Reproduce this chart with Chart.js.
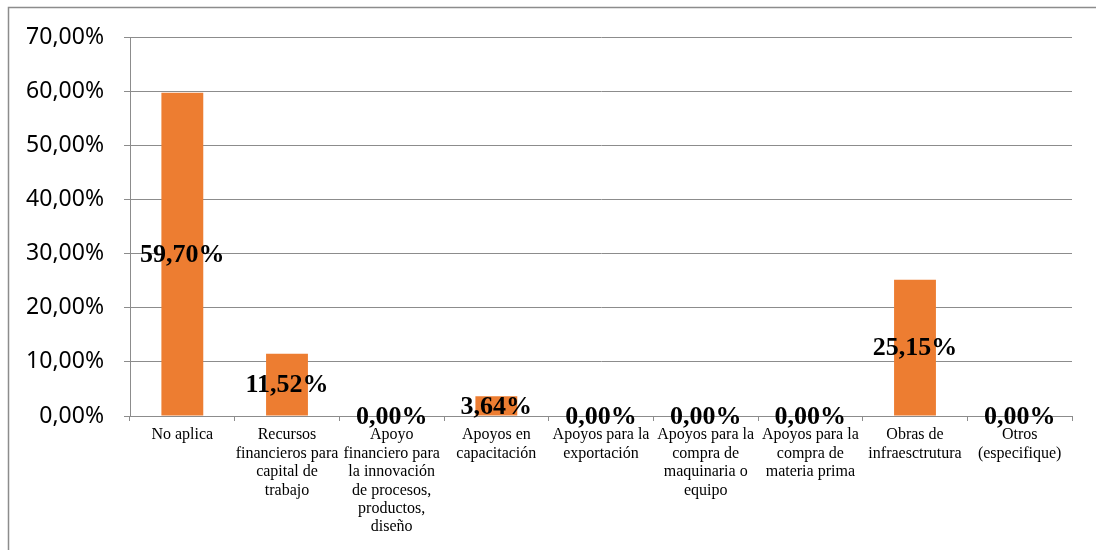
<!DOCTYPE html>
<html>
<head>
<meta charset="utf-8">
<script src="https://cdn.jsdelivr.net/npm/chart.js@4.4.0/dist/chart.umd.min.js"></script>
<style>
html,body{margin:0;padding:0;background:#fff;}
#wrap{position:relative;width:1096px;height:550px;}
</style>
</head>
<body>
<div id="wrap"><canvas id="c" width="1096" height="550"></canvas></div>
<script>
const categories = [
  "No aplica",
  ["Recursos","financieros para","capital de","trabajo"],
  ["Apoyo","financiero para","la innovación","de procesos,","productos,","diseño"],
  ["Apoyos en","capacitación"],
  ["Apoyos para la","exportación"],
  ["Apoyos para la","compra de","maquinaria o","equipo"],
  ["Apoyos para la","compra de","materia prima"],
  ["Obras de","infraesctrutura"],
  ["Otros","(especifique)"]
];
const values = [59.70, 11.52, 0.00, 3.64, 0.00, 0.00, 0.00, 25.15, 0.00];
const yTicks = [0, 10, 20, 30, 40, 50, 60, 70];

const fmt = v => v.toFixed(2).replace('.', ',') + '%';

const frame = {
  id: 'frame',
  beforeDraw(chart) {
    const ctx = chart.ctx;
    ctx.save();
    ctx.fillStyle = '#fff';
    ctx.fillRect(0, 0, chart.width, chart.height);
    ctx.strokeStyle = '#8c8c8c';
    ctx.lineWidth = 1.5;
    ctx.beginPath();
    ctx.moveTo(8.5, chart.height);
    ctx.lineTo(8.5, 7.5);
    ctx.lineTo(chart.width, 7.5);
    ctx.stroke();
    ctx.restore();
  }
};

const labelsPlugin = {
  id: 'valueLabels',
  afterDraw(chart) {
    const ctx = chart.ctx;
    const meta = chart.getDatasetMeta(0);
    ctx.save();
    ctx.font = 'bold 26px "Liberation Serif", "Times New Roman", serif';
    ctx.fillStyle = '#000';
    ctx.textAlign = 'center';
    ctx.textBaseline = 'middle';
    meta.data.forEach((bar, i) => {
      const y = (bar.y + bar.base) / 2 + 1;
      ctx.fillText(fmt(values[i]), bar.x, y);
    });
    ctx.restore();
  }
};

new Chart(document.getElementById('c'), {
  type: 'bar',
  data: {
    labels: categories,
    datasets: [{
      data: values,
      backgroundColor: '#ED7D31',
      borderWidth: 0,
      categoryPercentage: 1.0,
      barPercentage: 0.4
    }]
  },
  options: {
    responsive: false,
    animation: false,
    layout: { padding: { top: 37, right: 24, left: 0, bottom: 0 } },
    plugins: { legend: { display: false }, tooltip: { enabled: false } },
    scales: {
      y: {
        min: 0, max: 70,
        afterFit(scale) { scale.width = 130; },
        afterBuildTicks(scale) { scale.ticks = yTicks.map(v => ({ value: v })); },
        ticks: {
          padding: 20,
          color: '#000',
          font: { family: '"Noto Sans", sans-serif', size: 23 },
          callback: v => fmt(v)
        },
        grid: { color: '#8c8c8c', lineWidth: 1, tickLength: 6, drawTicks: true },
        border: { display: true, color: '#8c8c8c', width: 1 }
      },
      x: {
        afterFit(scale) { scale.height = 134; },
        ticks: {
          autoSkip: false, maxRotation: 0, minRotation: 0,
          padding: 5,
          color: '#000',
          font: { family: '"Liberation Serif", "Times New Roman", serif', size: 16, lineHeight: 1.15 }
        },
        grid: { offset: true, drawOnChartArea: false, drawTicks: true, tickLength: 5, color: '#8c8c8c' },
        border: { display: true, color: '#8c8c8c', width: 1 }
      }
    }
  },
  plugins: [frame, labelsPlugin]
});
</script>
</body>
</html>
